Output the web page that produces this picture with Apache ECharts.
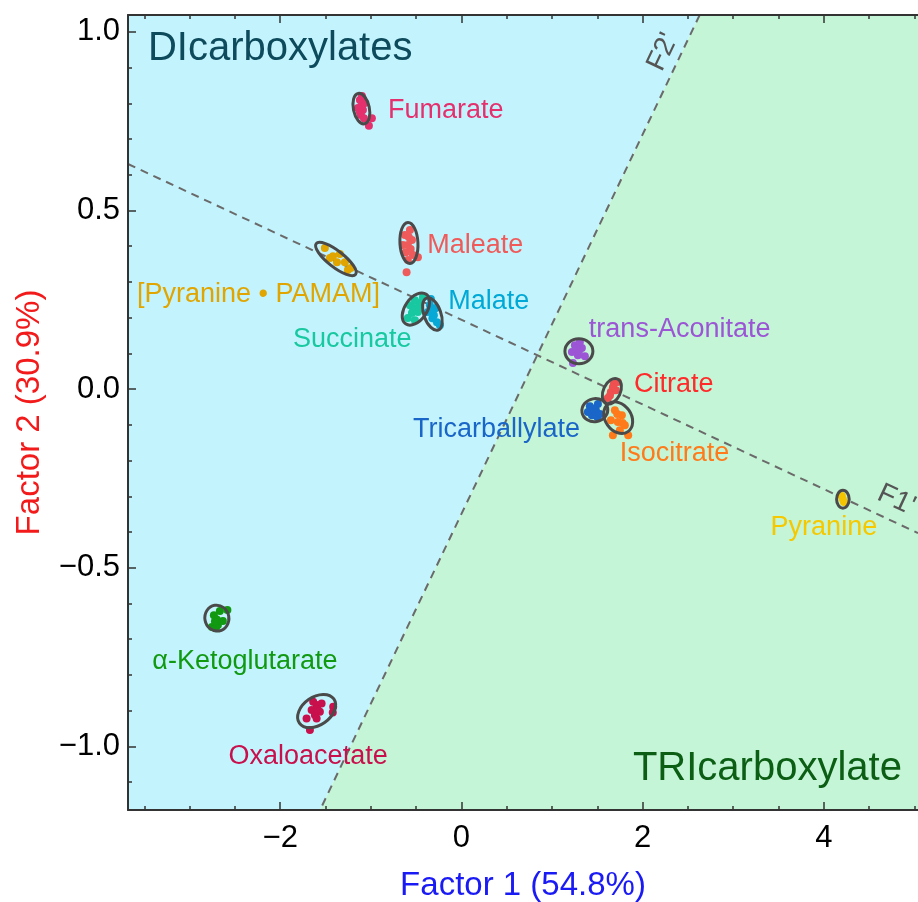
<!DOCTYPE html>
<html><head><meta charset="utf-8">
<script src="https://cdn.jsdelivr.net/npm/echarts@6/dist/echarts.min.js"></script>
<style>html,body{margin:0;padding:0;background:#fff}#c{width:918px;height:902px}</style>
</head><body><div id="c"></div>
<script>
// ---------- DATA ----------
const xRange = [-3.68, 5.04];
const yRange = [-1.178, 1.047];
const xMajorTicks = [-2, 0, 2, 4];
const xMinorTicks = [-3.5, -3, -2.5, -1.5, -1, -0.5, 0.5, 1, 1.5, 2.5, 3, 3.5, 4.5, 5];
const yMajorTicks = [-1, -0.5, 0, 0.5, 1];
const yMinorTicks = [-1.1, -0.9, -0.8, -0.7, -0.6, -0.4, -0.3, -0.2, -0.1, 0.1, 0.2, 0.3, 0.4, 0.6, 0.7, 0.8, 0.9];

const compounds = ['Fumarate', 'Maleate', '[Pyranine • PAMAM]', 'Succinate', 'Malate', 'trans-Aconitate',
  'Citrate', 'Tricarballylate', 'Isocitrate', 'Pyranine', 'α-Ketoglutarate', 'Oxaloacetate'];

const fumarate = [[-1.120,0.809],[-1.098,0.795],[-1.087,0.781],[-1.109,0.767],[-1.076,0.758],[-1.142,0.787],[-1.065,0.801],[-1.021,0.737],[-0.988,0.758],[-1.098,0.820],[-1.120,0.775],[-1.087,0.812]];
const maleate = [[-0.624,0.431],[-0.591,0.403],[-0.546,0.417],[-0.613,0.383],[-0.535,0.375],[-0.568,0.445],[-0.646,0.403],[-0.480,0.369],[-0.605,0.327],[-0.591,0.361],[-0.580,0.425],[-0.560,0.392]];
const pyraninePamam = [[-1.507,0.395],[-1.418,0.372],[-1.341,0.378],[-1.374,0.355],[-1.286,0.355],[-1.253,0.333],[-1.451,0.367],[-1.220,0.339]];
const succinate = [[-0.568,0.235],[-0.513,0.249],[-0.458,0.241],[-0.546,0.213],[-0.480,0.216],[-0.591,0.199],[-0.425,0.257],[-0.513,0.193],[-0.535,0.228],[-0.470,0.232]];
const malate = [[-0.348,0.235],[-0.304,0.207],[-0.270,0.187],[-0.370,0.216],[-0.281,0.227],[-0.337,0.252],[-0.237,0.179],[-0.320,0.198],[-0.300,0.225]];
const transAconitate = [[1.253,0.123],[1.330,0.115],[1.286,0.095],[1.363,0.092],[1.220,0.104],[1.308,0.132],[1.231,0.073],[1.300,0.108],[1.270,0.113]];
const citrate = [[1.683,0.014],[1.650,-0.008],[1.705,-0.003],[1.617,-0.025],[1.727,0.020],[1.672,0.005],[1.640,-0.018]];
const tricarballylate = [[1.418,-0.048],[1.485,-0.059],[1.529,-0.070],[1.441,-0.073],[1.507,-0.042],[1.396,-0.064],[1.460,-0.055],[1.500,-0.078]];
const isocitrate = [[1.694,-0.059],[1.771,-0.073],[1.727,-0.092],[1.804,-0.101],[1.650,-0.087],[1.749,-0.115],[1.672,-0.129],[1.841,-0.129],[1.720,-0.070],[1.780,-0.095]];
const pyranine = [[4.211,-0.308],[4.200,-0.299],[4.222,-0.316]];
const ketoglutarate = [[-2.732,-0.633],[-2.666,-0.621],[-2.688,-0.660],[-2.754,-0.666],[-2.633,-0.649],[-2.583,-0.618],[-2.710,-0.669],[-2.700,-0.645],[-2.720,-0.650]];
const oxaloacetate = [[-1.636,-0.875],[-1.598,-0.884],[-1.653,-0.898],[-1.562,-0.903],[-1.617,-0.912],[-1.598,-0.922],[-1.709,-0.922],[-1.672,-0.954],[-1.415,-0.889],[-1.543,-0.880],[-1.590,-0.895],[-1.420,-0.905]];
const clusterPoints = [fumarate, maleate, pyraninePamam, succinate, malate, transAconitate,
  citrate, tricarballylate, isocitrate, pyranine, ketoglutarate, oxaloacetate];

// ellipse centres (data units)
const ellipseCenters = [[-1.104,0.785],[-0.579,0.409],[-1.385,0.364],[-0.502,0.224],[-0.320,0.210],[1.297,0.106],
  [1.661,-0.006],[1.473,-0.059],[1.731,-0.080],[4.211,-0.308],[-2.699,-0.641],[-1.598,-0.901]];

// factor axes (dashed lines) and region boundaries
const lineF1 = [[-3.68, 0.630], [5.04, -0.403]];
const lineF2 = [[2.63, 1.047], [-1.56, -1.178]];
const regionDI = [[-3.68, 1.047], [2.63, 1.047], [-1.56, -1.178], [-3.68, -1.178]];
const regionTRI = [[2.63, 1.047], [5.04, 1.047], [5.04, -1.178], [-1.56, -1.178]];

// ---------- LAYOUT / STYLE ----------
const colors = ['#E5306E', '#EF5B5B', '#E0A500', '#18C8A0', '#08A8D6', '#9B55D5',
  '#F05050', '#1A66C8', '#FF7A1A', '#F5C400', '#119911', '#C8104C'];
const labelColors = ['#E5306E', '#EF5B5B', '#E0A500', '#18C8A0', '#00A8D6', '#9B55D5',
  '#FF2A2A', '#1A66C8', '#FF7A1A', '#F5C800', '#119911', '#C8104C'];
const labelAnchors = [[-0.811,0.786],[-0.377,0.406],[-3.582,0.270],[-1.860,0.143],[-0.146,0.252],[1.407,0.171],
  [1.904,0.018],[-0.535,-0.108],[1.749,-0.176],[3.413,-0.383],[-3.412,-0.758],[-2.570,-1.023]];
// [semi-axis a (px), semi-axis b (px), rotation deg CCW]
const ellipseShape = [[8,15.5,12],[9,20.5,3],[25,8,-38],[18,11,55],[17,8.5,-70],[14,12.5,0],
  [13.5,8.5,65],[13,11.5,10],[17,13,-55],[6.3,9,0],[12,13,10],[21,14,35]];
const annotations = [
  {text: 'DIcarboxylates', pos: [-3.460, 0.954], size: 40, color: '#0D4A5C', align: 'left', rot: 0},
  {text: 'TRIcarboxylate', pos: [1.893, -1.059], size: 40, color: '#0B5E14', align: 'left', rot: 0},
  {text: "F2'", pos: [2.224, 0.946], size: 28, color: '#555555', align: 'center', rot: 64.5},
  {text: "F1'", pos: [4.610, -0.285], size: 28, color: '#555555', align: 'left', rot: -25}
];
const FONT = '"Liberation Sans", Arial, sans-serif';

const fmtX = v => String(v).replace('-', '−');
const fmtY = v => v.toFixed(1).replace('-', '−');
const frame = {color: '#333', width: 2};
const tickStyle = {color: '#333', width: 1.5};

function xAxisDef(pos, ticks, len, major, line) {
  return {
    type: 'value', position: pos, min: xRange[0], max: xRange[1], z: 10,
    axisLine: {show: line, onZero: false, lineStyle: frame},
    axisTick: {show: true, inside: true, length: len, customValues: ticks, lineStyle: tickStyle},
    axisLabel: major ? {customValues: ticks, formatter: fmtX, fontSize: 31, color: '#000', margin: 13, fontFamily: FONT} : {show: false},
    splitLine: {show: false}
  };
}
function yAxisDef(ticks, len, major, line) {
  return {
    type: 'value', position: 'left', min: yRange[0], max: yRange[1], z: 10,
    axisLine: {show: line, onZero: false, lineStyle: frame},
    axisTick: {show: true, inside: true, length: len, customValues: ticks, lineStyle: tickStyle},
    axisLabel: major ? {customValues: ticks, formatter: fmtY, fontSize: 31, color: '#000', margin: 8, fontFamily: FONT} : {show: false},
    splitLine: {show: false}
  };
}

const xAxes = [
  Object.assign(xAxisDef('bottom', xMajorTicks, 8, true, true), {
    name: 'Factor 1 (54.8%)', nameLocation: 'middle', nameGap: 59,
    nameTextStyle: {fontSize: 33, color: '#1A1AF5', fontFamily: FONT}
  }),
  xAxisDef('bottom', xMinorTicks, 4, false, false),
  xAxisDef('top', xMajorTicks, 8, false, true),
  xAxisDef('top', xMinorTicks, 4, false, false)
];
const yAxes = [
  Object.assign(yAxisDef(yMajorTicks, 8, true, true), {
    name: 'Factor 2 (30.9%)', nameLocation: 'middle', nameGap: 82, nameRotate: 90,
    nameTextStyle: {fontSize: 33, color: '#F21A1A', fontFamily: FONT}
  }),
  yAxisDef(yMinorTicks, 4, false, false)
];

const series = [];
// background regions
const regions = [regionDI, regionTRI];
const regionColors = ['#C3F4FD', '#C4F5D6'];
series.push({
  type: 'custom', coordinateSystem: 'cartesian2d', z: 0, silent: true,
  data: [[0, 0], [0, 0]],
  renderItem: (p, api) => ({
    type: 'polygon',
    shape: {points: regions[p.dataIndex].map(v => api.coord(v))},
    style: {fill: regionColors[p.dataIndex], stroke: null}
  })
});
// dashed factor lines
[lineF1, lineF2].forEach(l => series.push({
  type: 'line', data: l, symbol: 'none', z: 1, silent: true,
  lineStyle: {color: '#6a6a6a', width: 2, type: [8, 6]}
}));
// points
clusterPoints.forEach((pts, i) => series.push({
  type: 'scatter', name: compounds[i], data: pts, symbolSize: 8, z: 2,
  itemStyle: {color: colors[i], opacity: 1}
}));
// ellipses
series.push({
  type: 'custom', coordinateSystem: 'cartesian2d', z: 3, silent: true,
  data: ellipseCenters,
  renderItem: (p, api) => {
    const c = api.coord([api.value(0), api.value(1)]);
    const s = ellipseShape[p.dataIndex];
    return {
      type: 'ellipse', x: c[0], y: c[1], rotation: s[2] * Math.PI / 180,
      shape: {cx: 0, cy: 0, rx: s[0], ry: s[1]},
      style: {fill: 'none', stroke: '#4a4a4a', lineWidth: 3}
    };
  }
});
// compound labels
series.push({
  type: 'custom', coordinateSystem: 'cartesian2d', z: 4, silent: true,
  data: labelAnchors,
  renderItem: (p, api) => {
    const c = api.coord([api.value(0), api.value(1)]);
    return {
      type: 'text', x: c[0], y: c[1] + 2,
      style: {text: compounds[p.dataIndex], fill: labelColors[p.dataIndex], fontSize: 27,
        fontFamily: FONT, align: 'left', verticalAlign: 'middle'}
    };
  }
});
// region / axis annotations
series.push({
  type: 'custom', coordinateSystem: 'cartesian2d', z: 4, silent: true,
  data: annotations.map(a => a.pos),
  renderItem: (p, api) => {
    const a = annotations[p.dataIndex];
    const c = api.coord([api.value(0), api.value(1)]);
    return {
      type: 'text', x: c[0], y: c[1] + 1, rotation: a.rot * Math.PI / 180,
      style: {text: a.text, fill: a.color, fontSize: a.size, fontFamily: FONT,
        align: a.align, verticalAlign: 'middle'}
    };
  }
});

const chart = echarts.init(document.getElementById('c'), null, {renderer: 'canvas'});
chart.setOption({
  animation: false,
  backgroundColor: '#ffffff',
  grid: {left: 128, right: 0, top: 15, bottom: 92, containLabel: false, outerBoundsMode: 'none'},
  xAxis: xAxes,
  yAxis: yAxes,
  series: series
});
</script>
</body></html>
